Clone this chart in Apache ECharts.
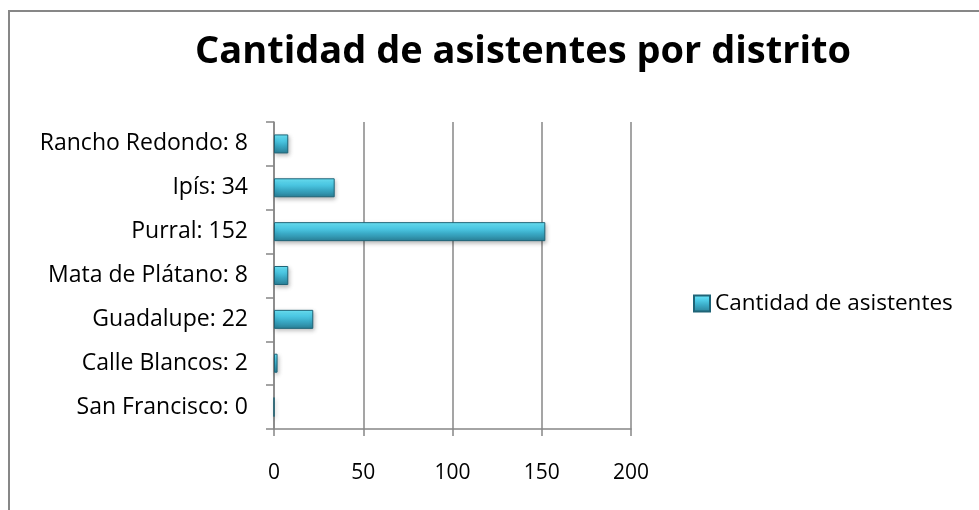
<!DOCTYPE html>
<html>
<head>
<meta charset="utf-8">
<script src="https://cdn.jsdelivr.net/npm/echarts@6/dist/echarts.min.js"></script>
<style>
html,body{margin:0;padding:0;background:#fff;}
#c{width:979px;height:510px;}
</style>
</head>
<body>
<div id="c"></div>
<script>
var titleText = 'Cantidad de asistentes por distrito';
var seriesName = 'Cantidad de asistentes';
var districts = ['San Francisco', 'Calle Blancos', 'Guadalupe', 'Mata de Plátano', 'Purral', 'Ipís', 'Rancho Redondo'];
var attendees = [0, 2, 22, 8, 152, 34, 8];
var xTicks = [0, 50, 100, 150, 200];

var categories = districts.map(function (d, i) { return d + ': ' + attendees[i]; });
var FONT = 'Open Sans';

var barColor = new echarts.graphic.LinearGradient(0, 0, 0, 1, [
  { offset: 0, color: '#6fe9fc' },
  { offset: 0.3, color: '#4fcde8' },
  { offset: 0.6, color: '#3aaac6' },
  { offset: 1, color: '#2a7f96' }
]);

var chart = echarts.init(document.getElementById('c'));
chart.setOption({
  backgroundColor: '#ffffff',
  animation: false,
  title: {
    text: titleText,
    left: 190,
    top: 28,
    textStyle: { fontFamily: FONT, fontWeight: 'bold', fontSize: 38, color: '#000' }
  },
  graphic: [
    { type: 'line', shape: { x1: 9, y1: 10, x2: 9, y2: 510 }, style: { stroke: '#878787', lineWidth: 2 } },
    { type: 'line', shape: { x1: 8, y1: 11, x2: 979, y2: 11 }, style: { stroke: '#878787', lineWidth: 2 } }
  ],
  legend: {
    data: [seriesName],
    left: 693,
    top: 292,
    padding: 0,
    itemWidth: 16,
    itemHeight: 16,
    itemGap: 6,
    icon: 'rect',
    textStyle: { fontFamily: FONT, fontSize: 22.5, color: '#000', padding: [0, 0, 0, 0] }
  },
  grid: { left: 274, right: 348, top: 122, bottom: 81, containLabel: false },
  xAxis: {
    type: 'value',
    min: xTicks[0],
    max: xTicks[xTicks.length - 1],
    interval: 50,
    axisLine: { show: true, lineStyle: { color: '#878787', width: 1.5 } },
    axisTick: { show: true, length: 7, lineStyle: { color: '#878787', width: 1.5 } },
    splitLine: { show: true, lineStyle: { color: '#878787', width: 1.5 } },
    axisLabel: { margin: 34, fontFamily: FONT, fontSize: 21, color: '#000' }
  },
  yAxis: {
    type: 'category',
    data: categories,
    axisLine: { show: true, lineStyle: { color: '#878787', width: 1.5 } },
    axisTick: { show: true, length: 8, lineStyle: { color: '#878787', width: 1.5 } },
    axisLabel: { margin: 26, fontFamily: FONT, fontSize: 23, color: '#000' }
  },
  series: [{
    name: seriesName,
    type: 'bar',
    data: attendees,
    barWidth: 19,
    itemStyle: {
      color: barColor,
      borderColor: '#1f6477',
      borderWidth: 1,
      shadowColor: 'rgba(0,0,0,0.25)',
      shadowBlur: 4,
      shadowOffsetX: 1,
      shadowOffsetY: 2
    }
  }]
});
</script>
</body>
</html>
